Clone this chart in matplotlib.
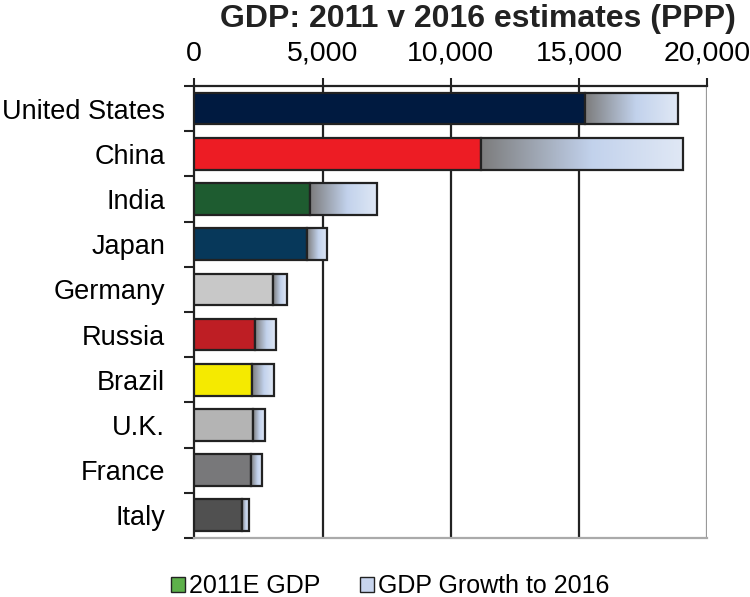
import numpy as np
import matplotlib
matplotlib.use('Agg')
import matplotlib.pyplot as plt
from matplotlib.colors import LinearSegmentedColormap
from matplotlib.patches import Patch

plt.rcParams['font.family'] = ['Liberation Sans', 'DejaVu Sans']

countries = ['United States', 'China', 'India', 'Japan', 'Germany',
             'Russia', 'Brazil', 'U.K.', 'France', 'Italy']
gdp_2011 = [15250, 11180, 4500, 4410, 3080, 2380, 2270, 2290, 2210, 1860]
gdp_2016 = [18860, 19050, 7140, 5190, 3610, 3180, 3090, 2740, 2650, 2120]
colors = ['#001a40', '#ed1c24', '#1e5c30', '#07385a', '#c8c8c8',
          '#be1e24', '#f5ea00', '#b4b4b4', '#78787a', '#505050']

fig = plt.figure(figsize=(7.5, 5.97), dpi=100)
ax = fig.add_axes([0.259, 0.099, 0.684, 0.757])

y = np.arange(len(countries))
h = 0.7
edge = '#222222'

ax.barh(y, gdp_2011, height=h, color=colors, edgecolor=edge, linewidth=1.6, zorder=3)

# gradient for growth part
grad = LinearSegmentedColormap.from_list('g', [(0, '#7c7c7c'), (0.55, '#c2d2ec'), (1, '#e0e8f5')])
gimg = np.linspace(0, 1, 256).reshape(1, -1)
for i in range(len(countries)):
    left = gdp_2011[i]
    right = gdp_2016[i]
    ax.imshow(gimg, cmap=grad, extent=[left, right, y[i] + h / 2, y[i] - h / 2],
              aspect='auto', zorder=3, interpolation='bilinear')
    ax.barh(y[i], right - left, left=left, height=h, color='none',
            edgecolor=edge, linewidth=1.6, zorder=4)

ax.set_xlim(0, 20000)
ax.set_ylim(len(countries) - 0.5, -0.5)

ax.xaxis.tick_top()
ax.set_xticks([0, 5000, 10000, 15000, 20000])
ax.set_xticklabels(['0', '5,000', '10,000', '15,000', '20,000'], fontsize=20.5)
ax.tick_params(axis='x', direction='out', length=6, width=1.5, color=edge, pad=8)
for xv in [5000, 10000, 15000]:
    ax.axvline(xv, color=edge, linewidth=1.6, zorder=1)
ax.axvline(20000, color='#999999', linewidth=1.6, zorder=1)

ax.set_yticks(y)
ax.set_yticklabels(countries, fontsize=19.5)
ax.tick_params(axis='y', which='major', length=0, pad=21)
ax.set_yticks(np.arange(-0.5, len(countries)), minor=True)
ax.tick_params(axis='y', which='minor', direction='out', length=7, width=1.5, color=edge)

ax.spines['left'].set_color(edge)
ax.spines['left'].set_linewidth(1.6)
ax.spines['top'].set_color(edge)
ax.spines['top'].set_linewidth(1.6)
ax.spines['right'].set_visible(False)
ax.spines['bottom'].set_color('#aaaaaa')
ax.spines['bottom'].set_linewidth(1.6)

fig.text(0.637, 0.968, 'GDP: 2011 v 2016 estimates (PPP)', ha='center', va='center',
         fontsize=23, fontweight='bold', color='#222222')

handles = [Patch(facecolor='#5db04a', edgecolor=edge, label='2011E GDP'),
           Patch(facecolor='#c8d5ee', edgecolor=edge, label='GDP Growth to 2016')]
fig.legend(handles=handles, loc='center', bbox_to_anchor=(0.52, 0.018), ncol=2,
           frameon=False, fontsize=18, handlelength=0.55, handleheight=0.55,
           handletextpad=0.15, columnspacing=1.6)

fig.savefig('out.png', dpi=100)
